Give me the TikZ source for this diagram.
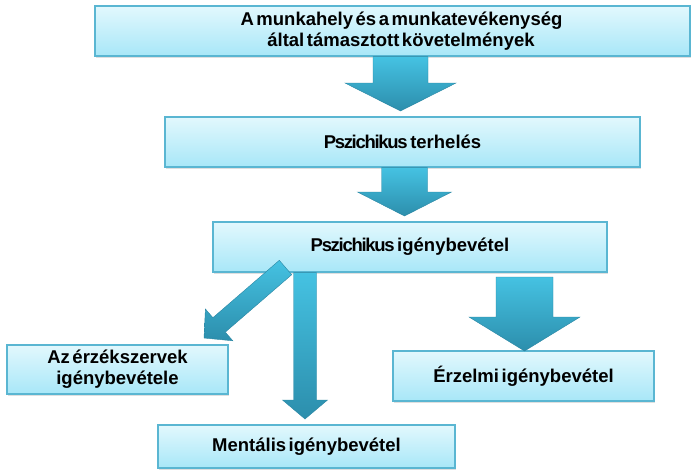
\documentclass[tikz,border=0pt]{standalone}
\usepackage{fontspec}
\setmainfont{Liberation Sans}[WordSpace=0.5]
\newfontfamily\tightfont{Liberation Sans}[LetterSpace=-7]
\newcommand{\psz}{{\tightfont\bfseries Pszichikus}}
\usetikzlibrary{calc,shadows}
\definecolor{boxline}{HTML}{5AB6D2}
\definecolor{boxtop}{HTML}{E2F8FD}
\definecolor{boxbot}{HTML}{A8E7F8}
\definecolor{arrtop}{HTML}{45C2E2}
\definecolor{arrbot}{HTML}{2C8EAC}
\definecolor{arredge}{HTML}{2A86A3}
\begin{document}
\begin{tikzpicture}[x=1pt,y=-1pt,
  box/.style={draw=boxline, line width=1.2pt, top color=boxtop, bottom color=boxbot,
    align=center, inner sep=0pt, font=\fontsize{18.5}{21}\selectfont\bfseries,
    drop shadow={shadow xshift=1pt, shadow yshift=-1.5pt, opacity=0.25, fill=gray}},
  barrow/.style={top color=arrtop, bottom color=arrbot, draw=arredge, line width=0.4pt, line join=miter}]
\useasboundingbox (0,0) rectangle (695,469);

% boxes
\node[box, minimum width=595pt, minimum height=50pt] (b1) at (392.5,31)
  {\hspace*{18pt}A munkahely és a munkatevékenység\\\hspace*{17pt}által támasztott követelmények};
\node[box, minimum width=475pt, minimum height=50pt] (b2) at (402.5,142) {\psz{} terhelés};
\node[box, minimum width=394pt, minimum height=50pt] (b3) at (410,247) {\psz{} igénybevétel};
\node[box, minimum width=221pt, minimum height=49pt] (b4) at (117.5,369.5) {Az érzékszervek\\igénybevétele};
\node[box, minimum width=261pt, minimum height=50pt] (b5) at (523.5,376) {Érzelmi igénybevétel};
\node[box, minimum width=297pt, minimum height=43pt] (b6) at (306.5,446.5) {Mentális igénybevétel};

% arrow tips and tails
\coordinate (t1) at (400.5,111);
\coordinate (s1) at (b1.south -| t1);
\coordinate (t2) at (404.5,216);
\coordinate (s2) at (b2.south -| t2);
\coordinate (t3) at (305,419);
\coordinate (s3) at (b3.south -| t3);
\coordinate (t4) at (524.5,351);
\coordinate (s4) at (524.5,277);

% arrow 1: b1 -> b2
\path[barrow] ($(s1)+(-27.5,0)$) -- ($(s1)+(27.5,0)$) -- ($(t1)+(27.5,-28)$) -- ($(t1)+(55.5,-28)$)
  -- (t1) -- ($(t1)+(-55.5,-28)$) -- ($(t1)+(-27.5,-28)$) -- cycle;
% arrow 2: b2 -> b3
\path[barrow] ($(s2)+(-23,0)$) -- ($(s2)+(23,0)$) -- ($(t2)+(23,-24)$) -- ($(t2)+(47,-24)$)
  -- (t2) -- ($(t2)+(-47,-24)$) -- ($(t2)+(-23,-24)$) -- cycle;
% arrow 3: b3 -> b6
\path[barrow] ($(s3)+(-11.5,0)$) -- ($(s3)+(11.5,0)$) -- ($(t3)+(11.5,-19)$) -- ($(t3)+(22.5,-19)$)
  -- (t3) -- ($(t3)+(-22.5,-19)$) -- ($(t3)+(-11.5,-19)$) -- cycle;
% arrow 4: b3 -> b5
\path[barrow] ($(s4)+(-28.5,0)$) -- ($(s4)+(28.5,0)$) -- ($(t4)+(28.5,-34)$) -- ($(t4)+(55.5,-34)$)
  -- (t4) -- ($(t4)+(-55.5,-34)$) -- ($(t4)+(-28.5,-34)$) -- cycle;
% arrow 5: b3 -> b4 (diagonal)
\coordinate (s5) at (285.5,267.5);
\coordinate (t5) at (204,338);
\path[barrow] ($(s5)+(-6.2,-7.2)$) -- ($(s5)+(6.2,7.2)$) -- ($(t5)+(21.3,-5.9)$) -- ($(t5)+(28.8,2.8)$)
  -- (t5) -- ($(t5)+(1.4,-29)$) -- ($(t5)+(8.9,-20.3)$) -- cycle;
\end{tikzpicture}
\end{document}
